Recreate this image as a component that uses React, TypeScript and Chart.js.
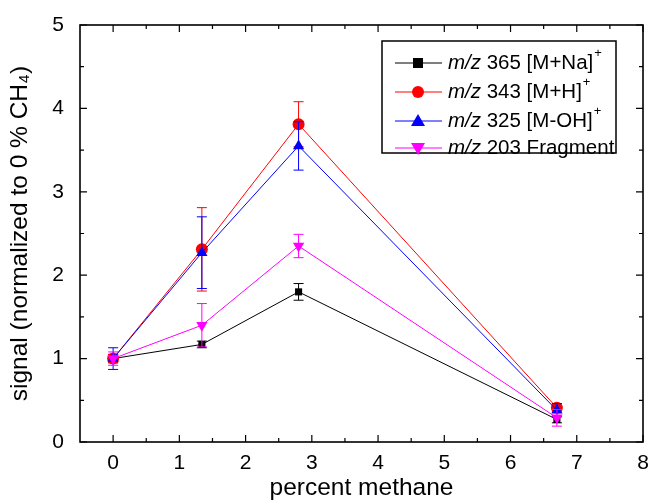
import React, { useEffect, useRef } from "react";
import { Chart, registerables } from "chart.js";

Chart.register(...registerables);

const methane = [0, 1.34, 2.8, 6.7];
const naValues = [1.0, 1.17, 1.8, 0.27];
const naErrors = [0.05, 0.04, 0.1, 0.04];
const hValues = [1.0, 2.31, 3.81, 0.41];
const hErrors = [0.05, 0.5, 0.27, 0.05];
const ohValues = [1.0, 2.27, 3.55, 0.38];
const ohErrors = [0.13, 0.43, 0.29, 0.08];
const fragValues = [1.0, 1.4, 2.35, 0.29];
const fragErrors = [0.08, 0.26, 0.14, 0.1];

const mzLabels = ["365", "343", "325", "203"];
const ionLabels = ["[M+Na]", "[M+H]", "[M-OH]", "Fragment"];
const supLabels = ["+", "+", "+", ""];
const colors = ["#000000", "#ff0000", "#0000ff", "#ff00ff"];
const pointStyles = ["rect", "circle", "triangle", "triangle"];
const pointRotations = [0, 0, 0, 180];
const pointRadii = [5, 6, 6.5, 6.5];

const xTicks = [0, 1, 2, 3, 4, 5, 6, 7, 8];
const yTicks = [0, 1, 2, 3, 4, 5];

const FONT = "'Liberation Sans', Arial, sans-serif";

const errorBarPlugin = {
  id: "errorBars",
  beforeDatasetDraw(chart: any, args: any) {
    const ds = chart.data.datasets[args.index];
    const errs: number[] = ds.errors;
    if (!errs) return;
    const xs = chart.scales.x;
    const ys = chart.scales.y;
    const ctx = chart.ctx;
    ctx.save();
    ctx.strokeStyle = ds.borderColor;
    ctx.lineWidth = 1;
    ds.data.forEach((p: any, i: number) => {
      const x = xs.getPixelForValue(p.x);
      const yTop = ys.getPixelForValue(p.y + errs[i]);
      const yBot = ys.getPixelForValue(p.y - errs[i]);
      ctx.beginPath();
      ctx.moveTo(x, yTop);
      ctx.lineTo(x, yBot);
      ctx.moveTo(x - 5, yTop);
      ctx.lineTo(x + 5, yTop);
      ctx.moveTo(x - 5, yBot);
      ctx.lineTo(x + 5, yBot);
      ctx.stroke();
    });
    ctx.restore();
  },
};

const framePlugin = {
  id: "frame",
  afterDraw(chart: any) {
    const { left, right, top, bottom } = chart.chartArea;
    const xs = chart.scales.x;
    const ys = chart.scales.y;
    const ctx = chart.ctx;
    ctx.save();
    ctx.strokeStyle = "#000";
    ctx.lineWidth = 1.6;
    ctx.strokeRect(left, top, right - left, bottom - top);
    ctx.lineWidth = 1.2;
    ctx.beginPath();
    for (let v = 0; v <= 8.001; v += 0.5) {
      const x = xs.getPixelForValue(v);
      const len = Math.abs(v - Math.round(v)) < 0.01 ? 7 : 4;
      ctx.moveTo(x, bottom);
      ctx.lineTo(x, bottom - len);
      ctx.moveTo(x, top);
      ctx.lineTo(x, top + len);
    }
    for (let v = 0; v <= 5.001; v += 0.5) {
      const y = ys.getPixelForValue(v);
      const len = Math.abs(v - Math.round(v)) < 0.01 ? 7 : 4;
      ctx.moveTo(left, y);
      ctx.lineTo(left + len, y);
      ctx.moveTo(right, y);
      ctx.lineTo(right - len, y);
    }
    ctx.stroke();
    ctx.restore();
  },
};

const legendPlugin = {
  id: "customLegend",
  afterDraw(chart: any) {
    const ctx = chart.ctx;
    const bx = 382, by = 41, bw = 234, bh = 112;
    ctx.save();
    ctx.fillStyle = "#fff";
    ctx.fillRect(bx, by, bw, bh);
    ctx.strokeStyle = "#000";
    ctx.lineWidth = 1.5;
    ctx.strokeRect(bx, by, bw, bh);
    const rows = [63, 92, 121, 148];
    chart.data.datasets.forEach((ds: any, i: number) => {
      const y = rows[i];
      ctx.strokeStyle = ds.borderColor;
      ctx.lineWidth = 1;
      ctx.beginPath();
      ctx.moveTo(395, y);
      ctx.lineTo(442, y);
      ctx.stroke();
      ctx.fillStyle = ds.borderColor;
      ctx.beginPath();
      const s = pointStyles[i];
      if (s === "rect") {
        ctx.fillRect(418 - 5, y - 5, 10, 10);
      } else if (s === "circle") {
        ctx.arc(418, y, 6, 0, Math.PI * 2);
        ctx.fill();
      } else if (pointRotations[i] === 0) {
        ctx.moveTo(418, y - 7);
        ctx.lineTo(425, y + 5);
        ctx.lineTo(411, y + 5);
        ctx.closePath();
        ctx.fill();
      } else {
        ctx.moveTo(418, y + 7);
        ctx.lineTo(425, y - 5);
        ctx.lineTo(411, y - 5);
        ctx.closePath();
        ctx.fill();
      }
      ctx.fillStyle = "#000";
      ctx.textBaseline = "middle";
      let x = 448;
      ctx.font = `italic 20.5px ${FONT}`;
      ctx.fillText("m/z", x, y);
      x += ctx.measureText("m/z").width;
      ctx.font = `20.5px ${FONT}`;
      const t = ` ${mzLabels[i]} ${ionLabels[i]}`;
      ctx.fillText(t, x, y);
      x += ctx.measureText(t).width + 1;
      if (supLabels[i]) {
        ctx.font = `13px ${FONT}`;
        ctx.fillText(supLabels[i], x, y - 10);
      }
    });
    ctx.restore();
  },
};

export default function App() {
  const ref = useRef<HTMLCanvasElement>(null);
  useEffect(() => {
    document.body.style.margin = "0";
    const seriesValues = [naValues, hValues, ohValues, fragValues];
    const seriesErrors = [naErrors, hErrors, ohErrors, fragErrors];
    const datasets = seriesValues.map((vals, i) => ({
      label: `m/z ${mzLabels[i]} ${ionLabels[i]}${supLabels[i]}`,
      data: vals.map((v, j) => ({ x: methane[j], y: v })),
      errors: seriesErrors[i],
      borderColor: colors[i],
      backgroundColor: colors[i],
      borderWidth: 1,
      pointStyle: pointStyles[i],
      pointRotation: pointRotations[i],
      pointRadius: pointRadii[i],
      pointBorderWidth: 0,
      showLine: true,
      tension: 0,
      order: 4 - i,
    }));
    const chart = new Chart(ref.current!, {
      type: "scatter",
      data: { datasets } as any,
      options: {
        animation: false,
        responsive: false,
        layout: { padding: { left: 0, top: 25, right: 8, bottom: 0 } },
        plugins: { legend: { display: false }, tooltip: { enabled: false } },
        scales: {
          x: {
            type: "linear",
            min: -0.5,
            max: 8,
            afterBuildTicks: (s: any) => {
              s.ticks = xTicks.map((v) => ({ value: v }));
            },
            afterFit: (s: any) => {
              s.height = 61;
              s.paddingLeft = 0;
              s.paddingRight = 0;
            },
            grid: { display: false, drawTicks: false },
            border: { display: false },
            ticks: { color: "#000", font: { family: FONT, size: 21 }, padding: 9, maxRotation: 0 },
            title: {
              display: true,
              text: "percent methane",
              color: "#000",
              font: { family: FONT, size: 24.5 },
              padding: { top: 0, bottom: 0 },
            },
          },
          y: {
            type: "linear",
            min: 0,
            max: 5,
            afterBuildTicks: (s: any) => {
              s.ticks = yTicks.map((v) => ({ value: v }));
            },
            afterFit: (s: any) => {
              s.width = 80;
              s.paddingTop = 0;
              s.paddingBottom = 0;
            },
            grid: { display: false, drawTicks: false },
            border: { display: false },
            ticks: { color: "#000", font: { family: FONT, size: 21 }, padding: 16 },
            title: {
              display: true,
              text: "signal (normalized to 0 % CH\u2084)",
              color: "#000",
              font: { family: FONT, size: 24.5 },
              padding: { top: 6, bottom: 0 },
            },
          },
        },
      },
      plugins: [errorBarPlugin, framePlugin, legendPlugin],
    } as any);
    return () => chart.destroy();
  }, []);
  return <canvas ref={ref} width={651} height={503} style={{ display: "block" }} />;
}
